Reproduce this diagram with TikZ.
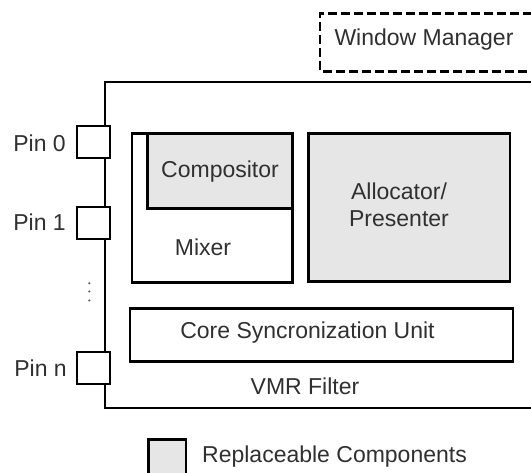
\documentclass[tikz,border=0pt]{standalone}
\usepackage{fontspec}
\setmainfont{Liberation Sans}
\definecolor{txt}{HTML}{303030}
\definecolor{repl}{HTML}{E6E6E6}
\tikzset{
  unit/.style={draw=black, line width=2.8pt, line join=miter},
  pinbox/.style={draw=black, line width=2.8pt, fill=white, minimum width=33pt, minimum height=32pt, inner sep=0pt},
  lbl/.style={text=txt, font=\fontsize{23}{27.5}\selectfont, inner sep=0pt},
  dotmark/.style={circle, fill=txt!80, inner sep=0pt, minimum size=2.4pt}
}
\begin{document}
\begin{tikzpicture}[x=1pt, y=-1pt]
  \useasboundingbox (0,0) rectangle (531,473);
  \clip (0,0) rectangle (531,473);
  \fill[white] (0,0) rectangle (531,473);

  % window manager (external, dashed)
  \draw[line width=2.3pt, dash pattern=on 9pt off 4pt] (545,13.5) -- (320,13.5) -- (320,71.5) -- (545,71.5);
  \node[lbl] (wm) at (424,40) {Window Manager};

  % VMR filter frame
  \coordinate (ftr) at (545,82);
  \coordinate (fbr) at (545,408);
  \draw[unit] (ftr) -- (105,82) -- (105,408) -- (fbr);

  % input pins
  \node[pinbox] (p0) at (93.5,142) {};
  \node[pinbox] (p1) at (93.5,223) {};
  \node[pinbox] (pn) at (93.5,368) {};
  \node[lbl, anchor=east] (p0l) at (66,143) {Pin 0};
  \node[lbl, anchor=east] (p1l) at (66,222) {Pin 1};
  \node[lbl, anchor=east] (pnl) at (67,368) {Pin n};
  \node[dotmark] (d1) at (89.3,283.3) {};
  \node[dotmark] (d2) at (89.3,291.5) {};
  \node[dotmark] (d3) at (89.3,300.5) {};

  % mixer with compositor
  \draw[unit, fill=white] (132,133.5) rectangle (292.5,282.5);
  \draw[unit, fill=repl] (147.5,133.5) rectangle (292.5,208.5);
  \node[lbl] (comp) at (220,172) {Compositor};
  \node[lbl] (mix) at (203,247) {Mixer};

  % allocator / presenter
  \draw[unit, fill=repl] (308.5,133.5) rectangle (510,281.5);
  \node[lbl, align=center] (ap) at (399,205) {Allocator/\\Presenter};

  % core synchronization unit
  \draw[unit, fill=white] (130,308.5) rectangle (513,361.5);
  \node[lbl] (csu) at (307.5,333) {Core Syncronization Unit};

  \node[lbl] (vmr) at (305,386) {VMR Filter};

  % legend
  \draw[unit, fill=repl] (148.5,480) -- (148.5,439.5) -- (186,439.5) -- (186,480);
  \node[lbl, anchor=west] (leg) at (202,456.5) {Replaceable Components};
\end{tikzpicture}
\end{document}
